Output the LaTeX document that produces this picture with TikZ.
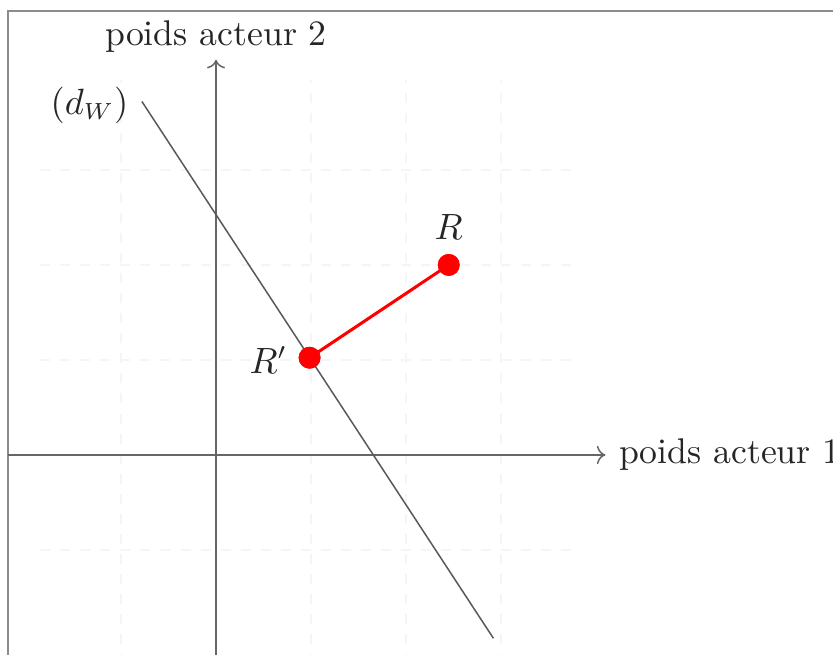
\documentclass[tikz,border=0pt]{standalone}
\usetikzlibrary{arrows.meta}
\tikzset{
  axisline/.style={black!60, line width=0.45pt, ->},
  gridline/.style={black!4, dashed, line width=0.4pt},
  dline/.style={black!65, line width=0.45pt},
  proj/.style={red, line width=0.9pt},
  pt/.style={circle, fill=red, inner sep=0pt, minimum size=0.23cm},
  lbl/.style={font=\fontsize{10.7}{13}\selectfont, text=black!85, inner sep=1pt}
}
\begin{document}
\begin{tikzpicture}
\useasboundingbox (-2.274,-2.105) rectangle (6.495,4.789);
\begin{scope}
\clip (-2.274,-2.105) rectangle (6.495,4.789);
% frame
\draw[black!45, line width=0.5pt] (-2.19,-3) rectangle (7,4.674);
% grid
\foreach \x in {-1,1,2,3} \draw[gridline] (\x,-2.2) -- (\x,3.95);
\foreach \y in {-1,1,2,3} \draw[gridline] (-1.85,\y) -- (3.83,\y);
% axes
\coordinate (xs) at (-2.19,0);
\coordinate (xe) at (4.1,0);
\coordinate (ys) at (0,-2.2);
\coordinate (ye) at (0,4.16);
\draw[axisline] (xs) -- (xe);
\draw[axisline] (ys) -- (ye);
\node[lbl, anchor=west] (xl) at (4.2,0) {poids acteur 1};
\node[lbl, anchor=south] (yl) at (0,4.2) {poids acteur 2};
% line d_W
\coordinate (d1) at (-0.78,3.72);
\coordinate (d2) at (2.92,-1.93);
\draw[dline] (d1) -- (d2);
\node[lbl, anchor=east] (dl) at (-0.88,3.68) {$(d_W)$};
% points
\node[pt] (R) at (2.45,2) {};
\node[pt] (Rp) at (0.985,1.023) {};
\draw[proj] (R.center) -- (Rp.center);
\node[pt] at (R) {};
\node[pt] at (Rp) {};
\node[lbl] (Rl) at (2.45,2.4) {$R$};
\node[lbl] (Rpl) at (0.55,1.0) {$R'$};
\end{scope}
\end{tikzpicture}
\end{document}
